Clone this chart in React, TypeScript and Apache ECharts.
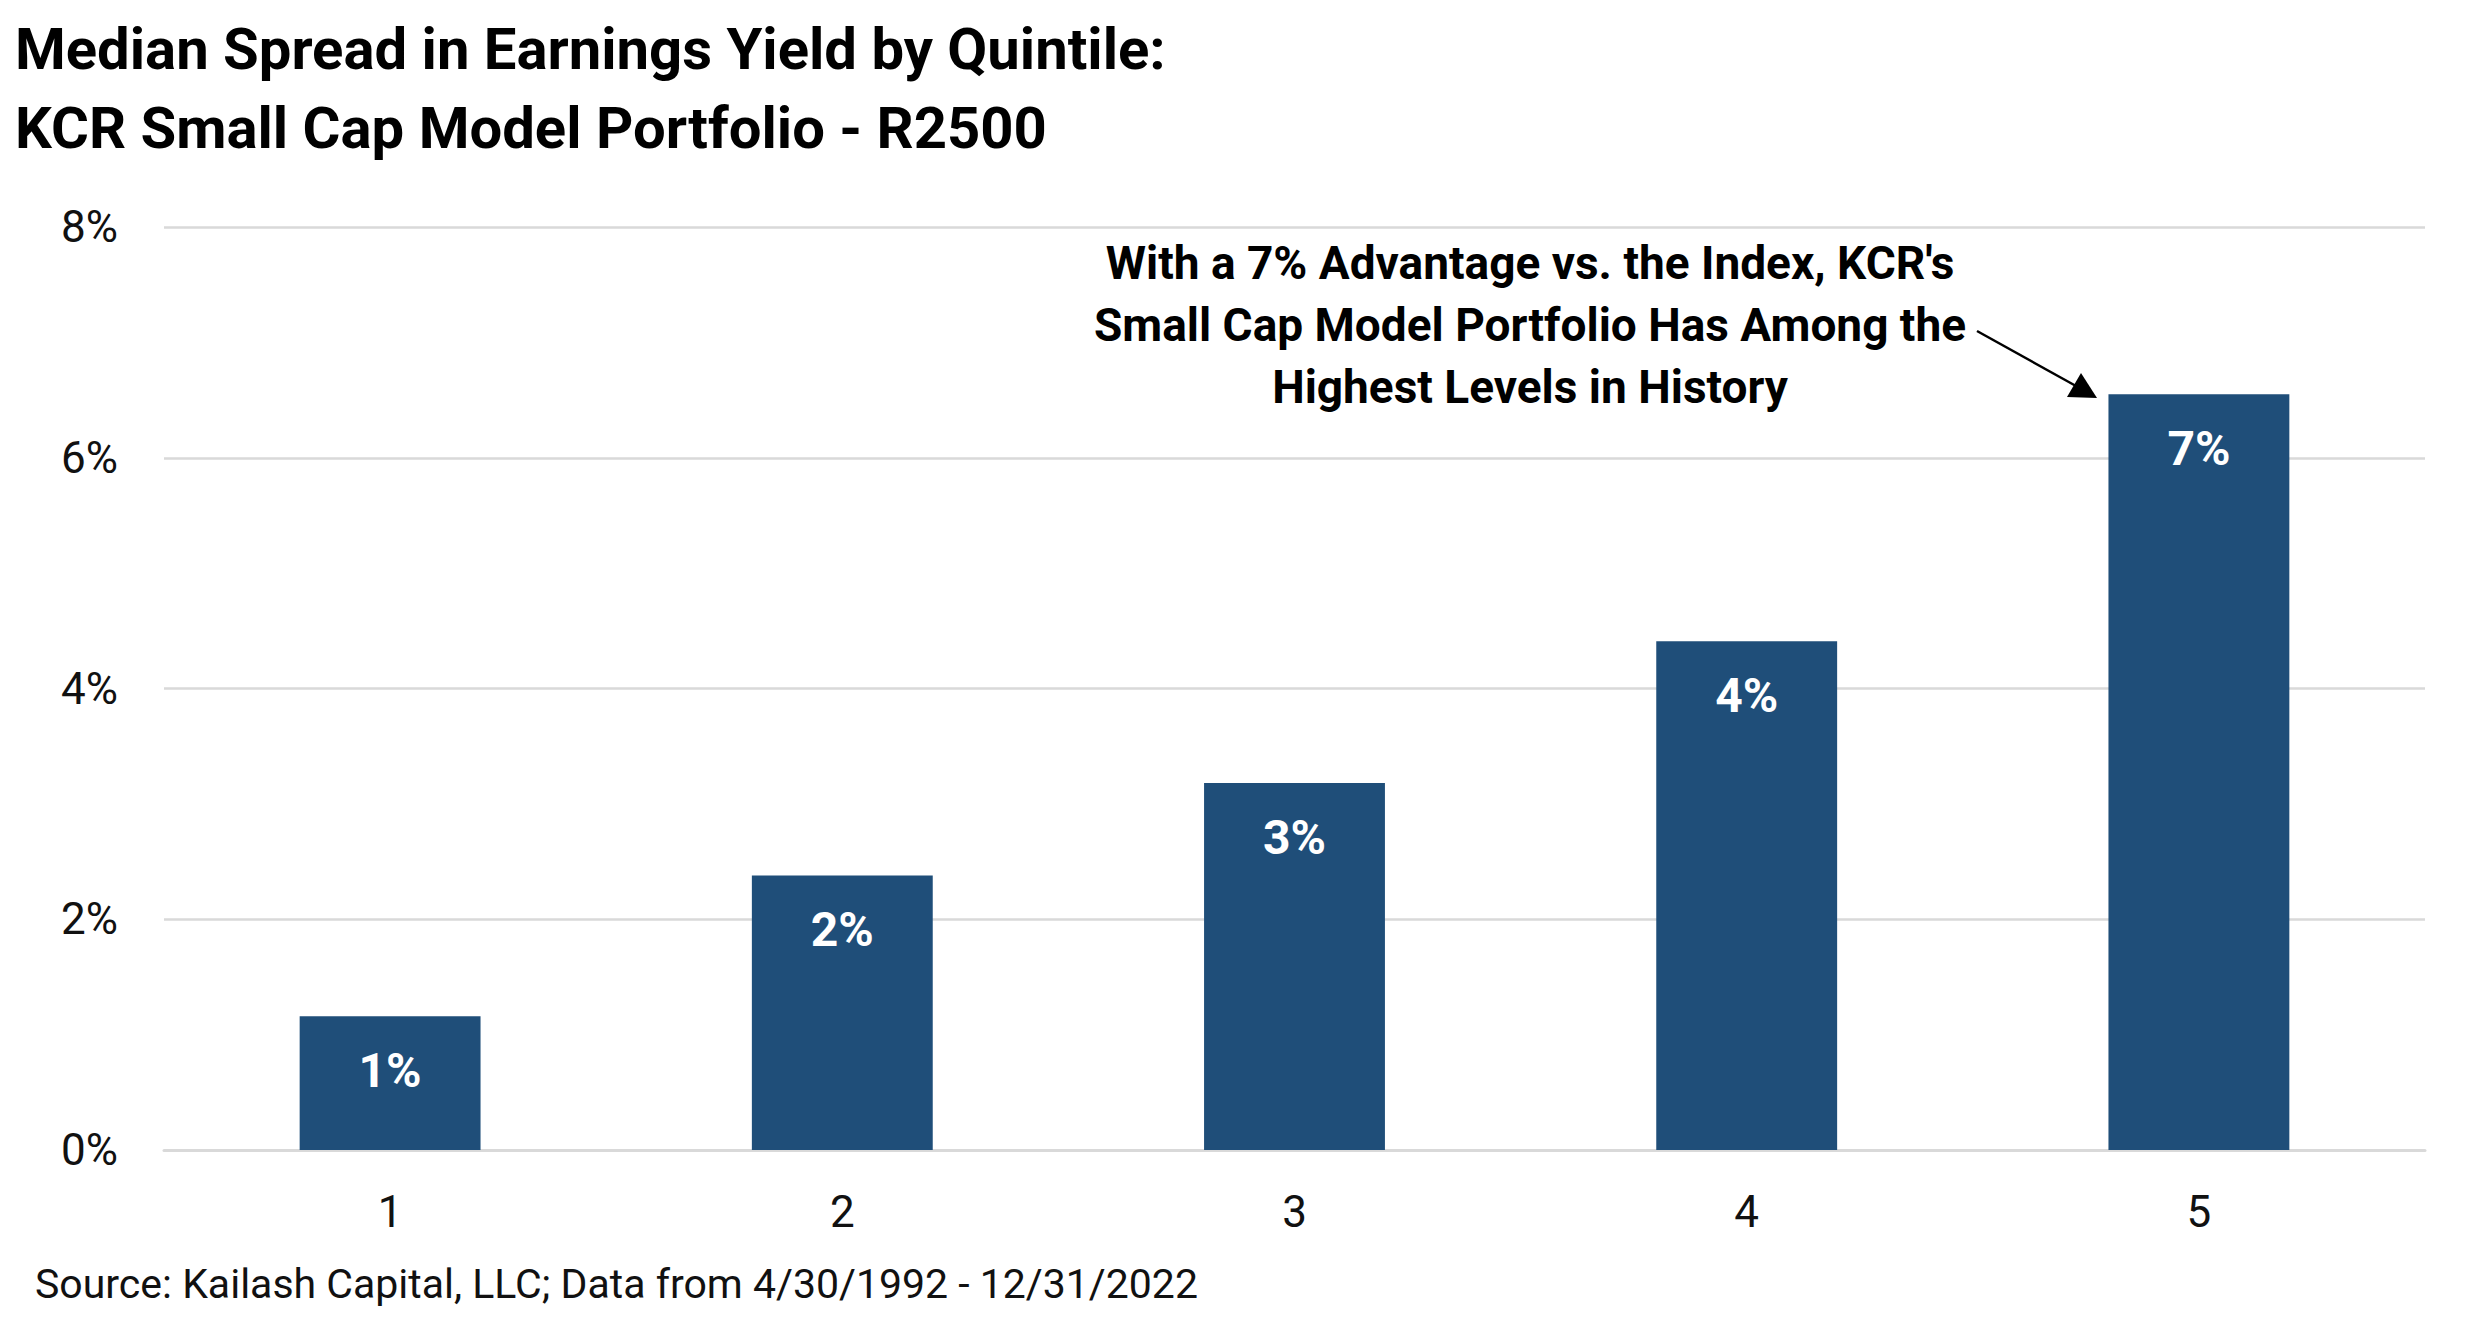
import React, { useEffect, useRef } from 'react';
import * as echarts from 'echarts';

// 五分位组别与中位数收益率差（%）
const quintiles = ['1', '2', '3', '4', '5'];
const spreadValues = [1.16, 2.38, 3.18, 4.41, 6.55];
const yTicks = [0, 2, 4, 6, 8];

const titleText = 'Median Spread in Earnings Yield by Quintile:\nKCR Small Cap Model Portfolio - R2500';
const noteText = "With a 7% Advantage vs. the Index, KCR's\nSmall Cap Model Portfolio Has Among the\nHighest Levels in History";
const sourceText = 'Source: Kailash Capital, LLC; Data from 4/30/1992 - 12/31/2022';

const FONT = 'Roboto, "Noto Sans", sans-serif';
const BAR_COLOR = '#1F4E79';

const App: React.FC = () => {
  const chartRef = useRef<HTMLDivElement>(null);

  useEffect(() => {
    document.body.style.margin = '0';
    if (!chartRef.current) return;
    const chart = echarts.init(chartRef.current, null, { renderer: 'svg' });

    const option = {
      animation: false,
      textStyle: { fontFamily: FONT },
      title: {
        text: titleText,
        left: 10,
        top: 4,
        textStyle: {
          fontFamily: FONT,
          fontSize: 58,
          fontWeight: 'bold',
          color: '#000',
          lineHeight: 79
        }
      },
      grid: { left: 164, right: 50, top: 227, bottom: 170 },
      xAxis: {
        type: 'category',
        data: quintiles,
        axisLine: { lineStyle: { color: '#D9D9D9', width: 3 } },
        axisTick: { show: false },
        axisLabel: { color: '#111', fontSize: 44, margin: 40, fontFamily: FONT }
      },
      yAxis: {
        type: 'value',
        min: yTicks[0],
        max: yTicks[yTicks.length - 1],
        interval: 2,
        axisLine: { show: false },
        axisTick: { show: false },
        axisLabel: {
          color: '#111',
          fontSize: 44,
          margin: 46,
          fontFamily: FONT,
          formatter: (v: number) => `${v}%`
        },
        splitLine: { lineStyle: { color: '#D9D9D9', width: 2.7 } }
      },
      series: [
        {
          type: 'bar',
          data: spreadValues,
          barCategoryGap: '60%',
          itemStyle: { color: BAR_COLOR },
          label: {
            show: true,
            position: 'insideTop',
            distance: 30,
            color: '#fff',
            fontSize: 48,
            fontWeight: 'bold',
            fontFamily: FONT,
            formatter: (p: any) => `${Math.round(p.value)}%`
          }
        }
      ],
      graphic: [
        {
          type: 'text',
          x: 1530,
          y: 325,
          style: {
            text: noteText,
            fontFamily: FONT,
            fontSize: 46,
            fontWeight: 'bold',
            fill: '#000',
            align: 'center',
            verticalAlign: 'middle',
            lineHeight: 62
          }
        },
        {
          type: 'line',
          shape: { x1: 1977, y1: 331, x2: 2076, y2: 386 },
          style: { stroke: '#000', lineWidth: 2.5 }
        },
        {
          type: 'polygon',
          shape: { points: [[2097, 398], [2067, 397], [2081, 373]] },
          style: { fill: '#000' }
        },
        {
          type: 'text',
          x: 35,
          y: 1284,
          style: {
            text: sourceText,
            fontFamily: FONT,
            fontSize: 41,
            fill: '#111',
            verticalAlign: 'middle'
          }
        }
      ]
    };

    chart.setOption(option);

    const handleResize = () => chart.resize();
    window.addEventListener('resize', handleResize);
    return () => {
      window.removeEventListener('resize', handleResize);
      chart.dispose();
    };
  }, []);

  return <div ref={chartRef} style={{ width: '2475px', height: '1320px' }}></div>;
};

export default App;
